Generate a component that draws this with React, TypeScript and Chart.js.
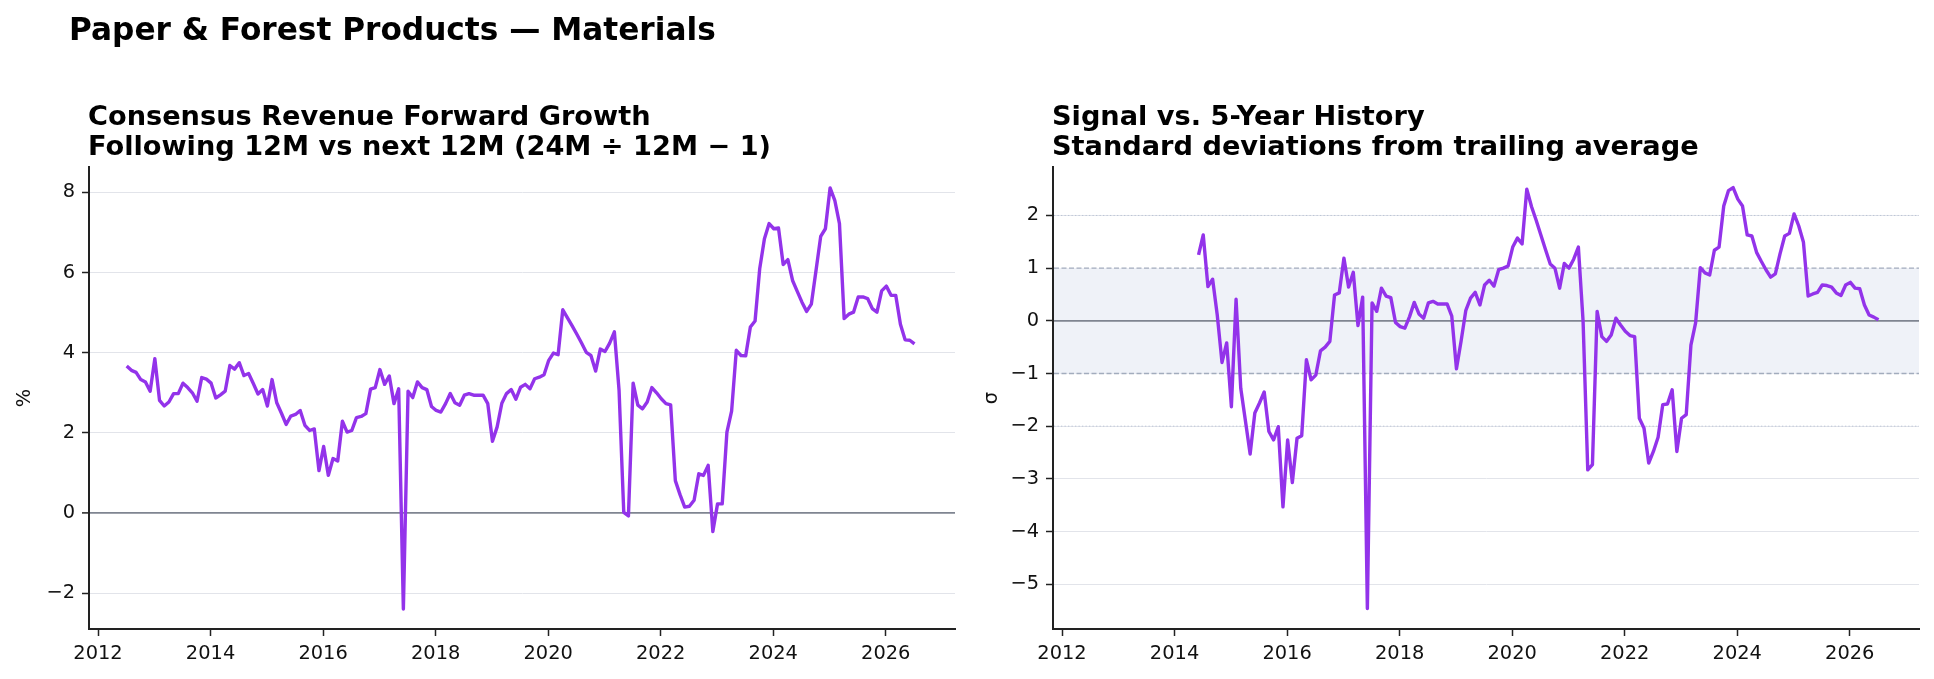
import React, { useEffect, useRef } from "react";
import { Chart, registerables } from "chart.js";

Chart.register(...registerables);

// ---------- text ----------
const SUPTITLE = "Paper & Forest Products \u2014 Materials";
const LEFT_TITLE = ["Consensus Revenue Forward Growth", "Following 12M vs next 12M (24M \u00f7 12M \u2212 1)"];
const RIGHT_TITLE = ["Signal vs. 5-Year History", "Standard deviations from trailing average"];
const LEFT_Y_LABEL = "%";
const RIGHT_Y_LABEL = "\u03c3";

// ---------- axes ----------
const X_TICKS = [2012, 2014, 2016, 2018, 2020, 2022, 2024, 2026];
const LEFT_Y_TICKS = [-2, 0, 2, 4, 6, 8];
const RIGHT_Y_TICKS = [-5, -4, -3, -2, -1, 0, 1, 2];
const X_RANGE = [2011.84, 2027.23];
const LEFT_Y_RANGE = [-2.89, 8.63];
const RIGHT_Y_RANGE = [-5.85, 2.92];
const SIGMA_BAND = [-1, 1];
const SIGMA_DOTTED = [-2, 2];

// ---------- data (monthly) ----------
const LEFT_START = "2012-07";
const RIGHT_START = "2014-06";

const growthValues = [
  3.67, 3.56, 3.51, 3.33, 3.27, 3.04, 3.85, 2.81, 2.67, 2.77, 2.98, 2.98,
  3.24, 3.13, 3.0, 2.79, 3.38, 3.34, 3.24, 2.87, 2.95, 3.04, 3.68, 3.59,
  3.75, 3.43, 3.48, 3.23, 2.97, 3.08, 2.67, 3.33, 2.75, 2.49, 2.21, 2.42,
  2.46, 2.56, 2.19, 2.06, 2.1, 1.06, 1.66, 0.94, 1.36, 1.3, 2.29, 2.02,
  2.06, 2.38, 2.41, 2.48, 3.09, 3.13, 3.58, 3.21, 3.42, 2.73, 3.1, -2.39,
  3.04, 2.88, 3.27, 3.13, 3.08, 2.66, 2.56, 2.52, 2.73, 2.98, 2.75, 2.69,
  2.94, 2.98, 2.94, 2.94, 2.94, 2.73, 1.79, 2.15, 2.74, 2.98, 3.08, 2.84,
  3.14, 3.21, 3.1, 3.35, 3.39, 3.45, 3.81, 3.99, 3.95, 5.07, 4.87, 4.67,
  4.46, 4.24, 4.01, 3.93, 3.54, 4.09, 4.03, 4.24, 4.52, 3.06, 0.02, -0.07,
  3.24, 2.69, 2.6, 2.77, 3.13, 3.0, 2.85, 2.73, 2.7, 0.81, 0.46, 0.15,
  0.17, 0.32, 0.98, 0.94, 1.19, -0.46, 0.23, 0.23, 2.02, 2.54, 4.06, 3.93,
  3.92, 4.64, 4.79, 6.1, 6.84, 7.22, 7.09, 7.11, 6.2, 6.32, 5.8, 5.53,
  5.26, 5.03, 5.21, 6.05, 6.9, 7.09, 8.11, 7.8, 7.22, 4.85, 4.96, 5.01,
  5.39, 5.39, 5.35, 5.1, 5.01, 5.54, 5.66, 5.43, 5.43, 4.71, 4.32, 4.31,
  4.22,
];

const zscoreValues = [
  1.25, 1.63, 0.65, 0.79, 0.1, -0.79, -0.42, -1.63, 0.41, -1.28, -1.9, -2.53,
  -1.75, -1.56, -1.35, -2.1, -2.26, -2.01, -3.53, -2.26, -3.07, -2.23, -2.18, -0.74,
  -1.12, -1.03, -0.57, -0.5, -0.39, 0.49, 0.53, 1.19, 0.64, 0.92, -0.09, 0.45,
  -5.46, 0.34, 0.18, 0.62, 0.47, 0.44, -0.03, -0.11, -0.14, 0.08, 0.35, 0.13,
  0.05, 0.34, 0.37, 0.32, 0.32, 0.32, 0.09, -0.91, -0.38, 0.2, 0.43, 0.54,
  0.3, 0.68, 0.77, 0.66, 0.97, 1.0, 1.04, 1.4, 1.57, 1.46, 2.5, 2.17,
  1.91, 1.63, 1.35, 1.08, 1.0, 0.62, 1.09, 1.0, 1.17, 1.4, 0.0, -2.83,
  -2.73, 0.18, -0.3, -0.39, -0.27, 0.05, -0.08, -0.2, -0.28, -0.3, -1.85, -2.04,
  -2.7, -2.48, -2.21, -1.59, -1.58, -1.31, -2.48, -1.85, -1.78, -0.46, -0.04, 1.01,
  0.91, 0.87, 1.34, 1.4, 2.18, 2.47, 2.53, 2.31, 2.18, 1.63, 1.61, 1.3,
  1.13, 0.97, 0.83, 0.89, 1.27, 1.61, 1.66, 2.03, 1.8, 1.49, 0.47, 0.51,
  0.54, 0.68, 0.67, 0.64, 0.53, 0.48, 0.68, 0.73, 0.62, 0.61, 0.3, 0.11,
  0.07, 0.02,
];

// ---------- style ----------
const FONT = '"DejaVu Sans", "Liberation Sans", sans-serif';
const PURPLE = "#9333ea";
const AXIS = "#222222";
const GRID = "#e2e4ea";
const ZERO = "#7f8591";
const BAND_FILL = "#eff2f8";
const BAND_LINE = "#a2acbd";
const DOT_LINE = "#bcc5d6";
const TICK_FONT = 19.4;

function monthDates(start: string, n: number): number[] {
  const [y, m] = start.split("-").map(Number);
  const out: number[] = [];
  for (let i = 0; i < n; i++) out.push(y + (m - 1 + i) / 12 + 0.01);
  return out;
}

function fmt(v: number): string {
  return v < 0 ? "\u2212" + Math.abs(v) : String(v);
}

const refPlugin = {
  id: "sigmaRefs",
  beforeDatasetsDraw(chart: any) {
    const { ctx, chartArea } = chart;
    const { left, right } = chartArea;
    const y = chart.scales.y;
    ctx.save();
    const yHi = y.getPixelForValue(SIGMA_BAND[1]);
    const yLo = y.getPixelForValue(SIGMA_BAND[0]);
    ctx.fillStyle = BAND_FILL;
    ctx.fillRect(left + 1, yHi, right - left - 1, yLo - yHi);

    ctx.lineWidth = 1.3;
    ctx.strokeStyle = BAND_LINE;
    ctx.setLineDash([5, 2.5]);
    for (const v of SIGMA_BAND) {
      const p = y.getPixelForValue(v);
      ctx.beginPath();
      ctx.moveTo(left + 1, p);
      ctx.lineTo(right, p);
      ctx.stroke();
    }
    ctx.lineWidth = 1;
    ctx.strokeStyle = DOT_LINE;
    ctx.setLineDash([1.3, 2.2]);
    for (const v of SIGMA_DOTTED) {
      const p = y.getPixelForValue(v);
      ctx.beginPath();
      ctx.moveTo(left + 1, p);
      ctx.lineTo(right, p);
      ctx.stroke();
    }
    ctx.setLineDash([]);
    ctx.lineWidth = 1.8;
    ctx.strokeStyle = ZERO;
    const z = y.getPixelForValue(0);
    ctx.beginPath();
    ctx.moveTo(left + 1, z);
    ctx.lineTo(right, z);
    ctx.stroke();
    ctx.restore();
  },
};

interface Cfg {
  dates: number[];
  values: number[];
  yRange: number[];
  yTicks: number[];
  yTitle: string;
  yTitlePad: number;
  yAxisWidth: number;
  padRight: number;
  zeroGrid: boolean;
  plugins: any[];
}

function buildConfig(c: Cfg): any {
  const tickFont = { family: FONT, size: TICK_FONT };
  return {
    type: "line",
    data: {
      datasets: [
        {
          data: c.dates.map((x, i) => ({ x, y: c.values[i] })),
          borderColor: PURPLE,
          borderWidth: 3.4,
          pointRadius: 0,
          tension: 0,
          fill: false,
          borderJoinStyle: "round",
          borderCapStyle: "butt",
        },
      ],
    },
    options: {
      responsive: false,
      animation: false,
      events: [],
      layout: { padding: { top: 167, right: c.padRight, bottom: 0, left: 0 } },
      plugins: {
        legend: { display: false },
        tooltip: { enabled: false },
        title: { display: false },
      },
      scales: {
        x: {
          type: "linear",
          min: X_RANGE[0],
          max: X_RANGE[1],
          afterBuildTicks: (s: any) => {
            s.ticks = X_TICKS.map((v) => ({ value: v }));
          },
          afterFit: (s: any) => {
            s.height = 50;
            s.paddingLeft = 0;
            s.paddingRight = 0;
          },
          grid: {
            display: true,
            drawOnChartArea: false,
            drawTicks: true,
            tickLength: 7,
            tickColor: AXIS,
            tickWidth: 1.5,
          },
          border: { display: true, color: AXIS, width: 2 },
          ticks: {
            color: "#111",
            font: tickFont,
            padding: 6,
            maxRotation: 0,
            autoSkip: false,
            callback: (v: any) => String(v),
          },
        },
        y: {
          type: "linear",
          min: c.yRange[0],
          max: c.yRange[1],
          afterBuildTicks: (s: any) => {
            s.ticks = c.yTicks.map((v) => ({ value: v }));
          },
          afterFit: (s: any) => {
            s.width = c.yAxisWidth;
            s.paddingTop = 0;
            s.paddingBottom = 0;
          },
          grid: {
            display: true,
            drawOnChartArea: true,
            drawTicks: true,
            color: (ctx: any) =>
              c.zeroGrid && ctx.tick && ctx.tick.value === 0 ? ZERO : GRID,
            lineWidth: (ctx: any) =>
              c.zeroGrid && ctx.tick && ctx.tick.value === 0 ? 1.8 : 1,
            tickLength: 7,
            tickColor: AXIS,
            tickWidth: 1.5,
          },
          border: { display: true, color: AXIS, width: 2 },
          ticks: {
            color: "#111",
            font: tickFont,
            padding: 7,
            autoSkip: false,
            callback: (v: any) => fmt(Number(v)),
          },
          title: {
            display: true,
            text: c.yTitle,
            color: "#111",
            font: tickFont,
            padding: { top: c.yTitlePad, bottom: 0 },
          },
        },
      },
    },
    plugins: c.plugins,
  };
}

function ChartCanvas({ cfg, left }: { cfg: Cfg; left: number }) {
  const ref = useRef<HTMLCanvasElement | null>(null);
  useEffect(() => {
    if (!ref.current) return;
    const chart = new Chart(ref.current, buildConfig(cfg));
    return () => chart.destroy();
  }, []);
  return (
    <canvas
      ref={ref}
      width={967}
      height={679}
      style={{ position: "absolute", left, top: 0, width: 967, height: 679 }}
    />
  );
}

const titleStyle: React.CSSProperties = {
  position: "absolute",
  fontFamily: FONT,
  fontWeight: "bold",
  color: "#000",
  whiteSpace: "nowrap",
};

export default function App() {
  useEffect(() => {
    document.body.style.margin = "0";
  }, []);
  const leftCfg: Cfg = {
    dates: monthDates(LEFT_START, growthValues.length),
    values: growthValues,
    yRange: LEFT_Y_RANGE,
    yTicks: LEFT_Y_TICKS,
    yTitle: LEFT_Y_LABEL,
    yTitlePad: 13,
    yAxisWidth: 89,
    padRight: 12,
    zeroGrid: true,
    plugins: [],
  };
  const rightCfg: Cfg = {
    dates: monthDates(RIGHT_START, zscoreValues.length),
    values: zscoreValues,
    yRange: RIGHT_Y_RANGE,
    yTicks: RIGHT_Y_TICKS,
    yTitle: RIGHT_Y_LABEL,
    yTitlePad: 13,
    yAxisWidth: 86,
    padRight: 15,
    zeroGrid: false,
    plugins: [refPlugin],
  };
  return (
    <div
      style={{
        position: "absolute",
        left: 0,
        top: 0,
        width: 1934,
        height: 679,
        background: "#fff",
        overflow: "hidden",
      }}
    >
      <ChartCanvas cfg={leftCfg} left={0} />
      <ChartCanvas cfg={rightCfg} left={967} />
      <div style={{ ...titleStyle, left: 69, top: 10.5, fontSize: 31.2, lineHeight: "37px" }}>
        {SUPTITLE}
      </div>
      <div style={{ ...titleStyle, left: 88, top: 100.6, fontSize: 27.2, lineHeight: "30px" }}>
        {LEFT_TITLE[0]}
        <br />
        {LEFT_TITLE[1]}
      </div>
      <div style={{ ...titleStyle, left: 1052, top: 100.6, fontSize: 27.2, lineHeight: "30px" }}>
        {RIGHT_TITLE[0]}
        <br />
        {RIGHT_TITLE[1]}
      </div>
    </div>
  );
}
